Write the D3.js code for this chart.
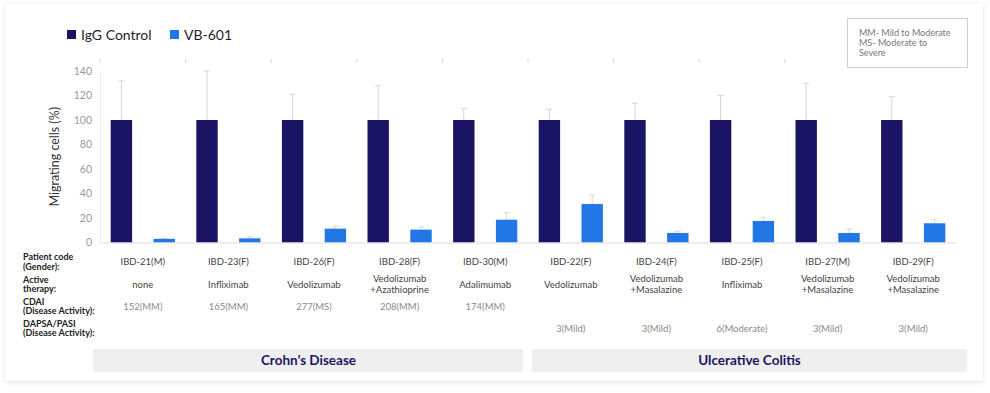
<!DOCTYPE html>
<meta charset="utf-8">
<style>
body { margin: 0; background: #fff; }
svg { font-family: Lato, "Noto Sans", sans-serif; }
.tick-y { fill: #9a9a9a; font-size: 10.5px; text-anchor: end; }
.row-label { fill: #222; font-size: 9px; font-weight: 700; }
.cell { font-size: 9.5px; text-anchor: middle; }
.legend { fill: #1e1e2a; font-size: 14px; }
.group { fill: #1b1464; font-size: 13.5px; font-weight: 700; text-anchor: middle; }
.note { fill: #777; font-size: 9px; }
</style>
<svg width="990" height="393"></svg>
<script src="https://d3js.org/d3.v7.min.js"></script>
<script>

var patients = ["IBD-21(M)", "IBD-23(F)", "IBD-26(F)", "IBD-28(F)", "IBD-30(M)",
                "IBD-22(F)", "IBD-24(F)", "IBD-25(F)", "IBD-27(M)", "IBD-29(F)"];
var therapies = [["none"], ["Infliximab"], ["Vedolizumab"], ["Vedolizumab", "+Azathioprine"], ["Adalimumab"],
                 ["Vedolizumab"], ["Vedolizumab", "+Masalazine"], ["Infliximab"], ["Vedolizumab", "+Masalazine"], ["Vedolizumab", "+Masalazine"]];
var cdai = ["152(MM)", "165(MM)", "277(MS)", "208(MM)", "174(MM)", "", "", "", "", ""];
var dapsa = ["", "", "", "", "", "3(Mild)", "3(Mild)", "6(Moderate)", "3(Mild)", "3(Mild)"];

var series = ["IgG Control", "VB-601"];
var iggValues = [100, 100, 100, 100, 100, 100, 100, 100, 100, 100];
var iggErrors = [32, 40, 21, 28, 9.5, 8.7, 13.6, 20, 30, 19];
var vbValues = [3, 3.4, 11.3, 10.5, 18.6, 31.4, 7.8, 17.6, 7.8, 15.7];
var vbErrors = [0.4, 1.3, 1.9, 2.2, 6, 7.1, 1.3, 3, 3.2, 3.2];

var yTicks = [0, 20, 40, 60, 80, 100, 120, 140];
var rowLabels = [["Patient code", "(Gender):"], ["Active", "therapy:"], ["CDAI", "(Disease Activity):"], ["DAPSA/PASI", "(Disease Activity):"]];
var groups = [{ name: "Crohn\u2019s Disease", first: 0, last: 4 }, { name: "Ulcerative Colitis", first: 5, last: 9 }];
var notes = ["MM- Mild to Moderate", "MS- Moderate to", "Severe"];

var colors = ["#1b1464", "#2277e6"];

var svg = d3.select("svg");

// card with soft shadow
var defs = svg.append("defs");
defs.append("filter").attr("id", "shadow").attr("x", "-5%").attr("y", "-5%").attr("width", "110%").attr("height", "110%")
  .append("feDropShadow").attr("dx", 0).attr("dy", 1).attr("stdDeviation", 2)
  .attr("flood-color", "#000").attr("flood-opacity", 0.12);
svg.append("rect").attr("x", 5).attr("y", 4).attr("width", 978).attr("height", 377)
    .attr("fill", "#fff").attr("filter", "url(#shadow)");

var x = d3.scaleBand().domain(patients).range([100, 956]);
var x1 = d3.scaleBand().domain(series).range([0, x.bandwidth()]).paddingInner(0.5).paddingOuter(0.25);
var y = d3.scaleLinear().domain([0, 140]).range([242.5, 71]);

// top tick marks at band boundaries
svg.append("g").selectAll("line")
  .data(patients.concat(["end"]))
  .join("line")
    .attr("x1", function(d, i) { return 100 + i * x.step(); })
    .attr("x2", function(d, i) { return 100 + i * x.step(); })
    .attr("y1", 59).attr("y2", 63)
    .attr("stroke", "#d4d4d4");

// y axis
var yAxis = svg.append("g");
yAxis.append("line").attr("x1", 100.5).attr("x2", 100.5).attr("y1", y(140)).attr("y2", y(0)).attr("stroke", "#eeeeee");
yAxis.selectAll("text")
  .data(yTicks)
  .join("text")
    .attr("class", "tick-y")
    .attr("x", 92)
    .attr("y", function(d) { return y(d); })
    .attr("dy", "0.35em")
    .text(function(d) { return d; });

svg.append("text")
    .attr("transform", "translate(59," + (y(0) + y(140)) / 2 + ") rotate(-90)")
    .attr("text-anchor", "middle")
    .attr("fill", "#333")
    .style("font-size", "12.5px")
    .text("Migrating cells (%)");

// bars
var data = patients.map(function(p, i) {
  return [
    { p: p, s: series[0], v: iggValues[i], e: iggErrors[i] },
    { p: p, s: series[1], v: vbValues[i], e: vbErrors[i] }
  ];
});

var grp = svg.append("g").selectAll("g")
  .data(data)
  .join("g")
    .attr("transform", function(d) { return "translate(" + x(d[0].p) + ",0)"; });

// error bars (drawn behind bars)
grp.selectAll("g.err")
  .data(function(d) { return d; })
  .join("g")
    .attr("class", "err")
    .each(function(d) {
      var g = d3.select(this),
          cx = x1(d.s) + x1.bandwidth() / 2,
          top = y(Math.min(140, d.v + d.e));
      g.append("line").attr("x1", cx).attr("x2", cx).attr("y1", y(d.v)).attr("y2", top).attr("stroke", "#d6d6d6");
      g.append("line").attr("x1", cx - 3).attr("x2", cx + 3).attr("y1", top).attr("y2", top).attr("stroke", "#d6d6d6");
    });

grp.selectAll("rect")
  .data(function(d) { return d; })
  .join("rect")
    .attr("x", function(d) { return x1(d.s); })
    .attr("y", function(d) { return y(d.v); })
    .attr("width", x1.bandwidth())
    .attr("height", function(d) { return y(0) - y(d.v); })
    .attr("fill", function(d, i) { return colors[i]; });

// x axis line
svg.append("line").attr("x1", 100).attr("x2", 956).attr("y1", y(0) + 0.5).attr("y2", y(0) + 0.5).attr("stroke", "#dcdcdc");

// legend
var legend = svg.append("g").selectAll("g")
  .data(series)
  .join("g")
    .attr("transform", function(d, i) { return "translate(" + (67 + i * 103) + ",30)"; });
legend.append("rect").attr("width", 9).attr("height", 9).attr("fill", function(d, i) { return colors[i]; });
legend.append("text").attr("class", "legend").attr("x", 14).attr("y", 9.5).text(function(d) { return d; });

// note box
svg.append("rect").attr("x", 847.5).attr("y", 18.5).attr("width", 120).attr("height", 49)
    .attr("fill", "#fff").attr("stroke", "#cfcfcf");
svg.append("g").selectAll("text")
  .data(notes)
  .join("text")
    .attr("class", "note")
    .attr("x", 859)
    .attr("y", function(d, i) { return 32.7 + i * 10; })
    .attr("dy", "0.35em")
    .text(function(d) { return d; });

// table rows
var rowY = [262, 284.5, 306.5, 328.5];
svg.append("g").selectAll("text")
  .data(rowLabels)
  .join("text")
    .attr("class", "row-label")
    .attr("x", 23)
    .attr("y", function(d, i) { return rowY[i] - 4.75; })
    .selectAll("tspan")
    .data(function(d) { return d; })
    .join("tspan")
      .attr("x", 23)
      .attr("dy", function(d, i) { return i ? "9.5px" : "0.35em"; })
      .text(function(d) { return d; });

var rows = [
  { cells: patients.map(function(d) { return [d]; }), color: "#444" },
  { cells: therapies, color: "#444" },
  { cells: cdai.map(function(d) { return [d]; }), color: "#8a8a8a" },
  { cells: dapsa.map(function(d) { return [d]; }), color: "#8a8a8a" }
];

rows.forEach(function(row, r) {
  svg.append("g").selectAll("text")
    .data(row.cells)
    .join("text")
      .attr("class", "cell")
      .attr("fill", row.color)
      .attr("x", function(d, i) { return x(patients[i]) + x.bandwidth() / 2; })
      .attr("y", function(d) { return rowY[r] - (d.length - 1) * 5.5; })
      .selectAll("tspan")
      .data(function(d) { return d; })
      .join("tspan")
        .attr("x", function() { return d3.select(this.parentNode).attr("x"); })
        .attr("dy", function(d, i) { return i ? "11px" : "0.35em"; })
        .text(function(d) { return d; });
});

// disease groups
var grpBox = svg.append("g").selectAll("g")
  .data(groups)
  .join("g");
grpBox.append("rect")
    .attr("x", function(d, i) { return x(patients[d.first]) + (i ? 4 : -7); })
    .attr("width", function(d, i) { return x(patients[d.last]) + x.step() - x(patients[d.first]) + (i ? 7 : 2); })
    .attr("y", 349)
    .attr("height", 23)
    .attr("fill", "#efefef");
grpBox.append("text")
    .attr("class", "group")
    .attr("x", function(d, i) { return (x(patients[d.first]) + x(patients[d.last]) + x.step()) / 2 + (i ? 7.5 : -5.5); })
    .attr("y", 360.5)
    .attr("dy", "0.35em")
    .text(function(d) { return d.name; });

</script>
